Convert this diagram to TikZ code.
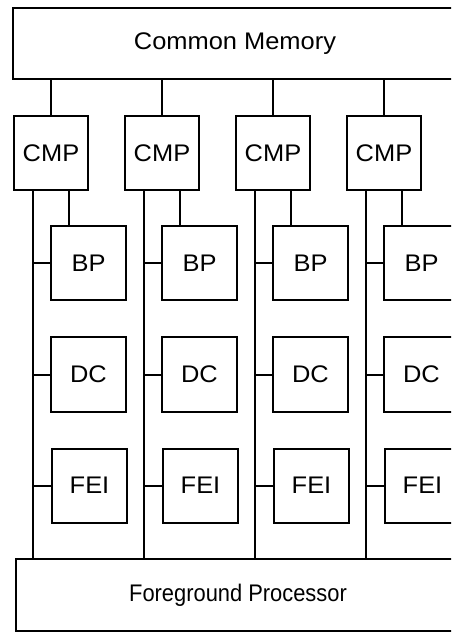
\documentclass[tikz,border=0pt]{standalone}
\usepackage{graphicx}
\usepackage{fontspec}
\setmainfont[FakeStretch=1.06]{Liberation Sans}
\usetikzlibrary{calc}
\begin{document}
\begin{tikzpicture}[x=1pt,y=-1pt,
  line width=2pt,
  unitbox/.style={draw, rectangle, minimum width=75pt, minimum height=74pt, inner sep=0pt,
    font=\fontsize{24}{28}\selectfont},
  widebox/.style={draw, rectangle, minimum width=444pt, minimum height=71pt, inner sep=0pt,
    font=\fontsize{24}{28}\selectfont},
  link/.style={line width=2pt}]
\useasboundingbox (0,0) rectangle (451,632);
\fill[white] (0,0) rectangle (451,632);
\clip (0,0) rectangle (451,632);
\node[widebox] (cm) at (235,43.5) {Common Memory};
\node[widebox, minimum height=72pt] (fp) at (238,595) {\scalebox{0.86}[1]{Foreground Processor}};
\foreach \i in {0,1,2,3}{
  \node[unitbox, minimum width=74pt] (cmp\i) at (51+111*\i,153) {CMP};
  \node[unitbox] (bp\i) at (88.5+111*\i,263) {BP};
  \node[unitbox, minimum height=75pt] (dc\i) at (88.5+111*\i,374.5) {DC};
  \node[unitbox] (fei\i) at (89.5+111*\i,485.5) {FEI};
  \coordinate (bus\i) at (33+111*\i,190);
  \coordinate (up\i) at (69+111*\i,190);
  \draw[link] (cmp\i.north) -- (cmp\i.north |- cm.south);
  \draw[link] (bus\i) -- (bus\i |- fp.north);
  \draw[link] (up\i) -- (up\i |- bp\i.north);
  \draw[link] (bp\i.west) -- (bp\i.west -| bus\i);
  \draw[link] (dc\i.west) -- (dc\i.west -| bus\i);
  \draw[link] (fei\i.west) -- (fei\i.west -| bus\i);
}
\end{tikzpicture}
\end{document}
